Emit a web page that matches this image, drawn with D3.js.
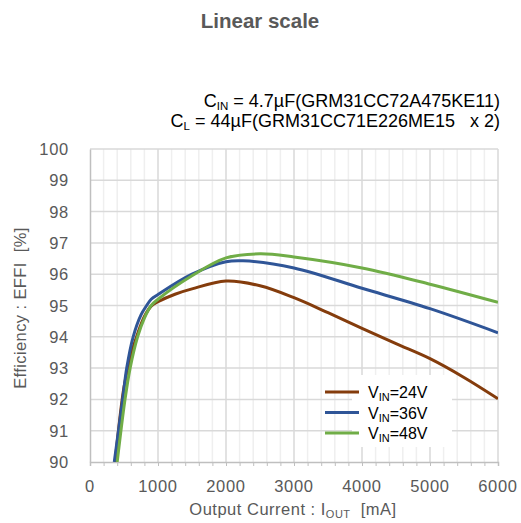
<!DOCTYPE html>
<html><head><meta charset="utf-8">
<script src="https://cdn.jsdelivr.net/npm/d3@7"></script>
<style>body{margin:0;background:#fff}svg{display:block;font-family:"Liberation Sans",Arial,sans-serif}</style>
</head><body><svg id="c" width="521" height="523"></svg>
<script>
const title = "Linear scale";
const xTicks = [0,1000,2000,3000,4000,5000,6000];
const yTicks = [90,91,92,93,94,95,96,97,98,99,100];
const seriesNames = ["24V","36V","48V"];
const seriesColors = ["#843C0C","#2F5597","#70AD47"];
const iout24 = [370,500,600,700,800,900,1000,1250,1500,2000,2500,3000,3500,4000,4500,5000,5500,6000];
const eff24  = [90.0,92.4,93.4,94.1,94.65,94.98,95.12,95.36,95.53,95.78,95.63,95.25,94.77,94.27,93.78,93.3,92.7,92.02];
const iout36 = [357,480,540,635,750,833,900,1000,1500,2000,2250,3000,4000,5000,6000];
const eff36  = [90.0,92.0,93.0,94.0,94.7,95.0,95.2,95.35,96.0,96.4,96.43,96.2,95.55,94.9,94.13];
const iout48 = [400,515,590,700,800,900,1000,1500,2000,2500,3000,4000,5000,6000];
const eff48  = [90.0,92.0,93.0,94.0,94.6,95.0,95.2,95.95,96.52,96.65,96.55,96.2,95.68,95.1];

const svg = d3.select("#c");
const x = d3.scaleLinear().domain([0,6000]).range([90,498]);
const y = d3.scaleLinear().domain([90,100]).range([462,149]);
const txt = "#595959";

// title
svg.append("text").attr("x",260).attr("y",27.5).attr("text-anchor","middle")
  .attr("font-size",20.5).attr("font-weight","bold").attr("fill",txt).text(title);

// annotation
const ann = svg.append("g").attr("fill","#000").attr("font-size",18).attr("text-anchor","end");
const a1 = ann.append("text").attr("x",500).attr("y",106.5);
a1.append("tspan").text("C");
a1.append("tspan").attr("font-size",11.5).attr("dy",3).text("IN");
a1.append("tspan").attr("dy",-3).text(" = 4.7µF(GRM31CC72A475KE11)");
const a2 = ann.append("text").attr("x",500).attr("y",127);
a2.append("tspan").text("C");
a2.append("tspan").attr("font-size",11.5).attr("dy",3).text("L");
a2.append("tspan").attr("dy",-3).attr("xml:space","preserve").text(" = 44µF(GRM31CC71E226ME15   x 2)");

// grid
const minor = d3.range(0,6001,200);
svg.append("g").selectAll("line").data(minor.filter(v=>v%1000!==0)).join("line")
  .attr("x1",d=>x(d)).attr("x2",d=>x(d)).attr("y1",y(100)).attr("y2",y(90))
  .attr("stroke","#efefef").attr("stroke-width",1.5);
svg.append("g").selectAll("line").data(xTicks.slice(1)).join("line")
  .attr("x1",d=>x(d)).attr("x2",d=>x(d)).attr("y1",y(100)).attr("y2",y(90))
  .attr("stroke","#d9d9d9").attr("stroke-width",1.5);
svg.append("g").selectAll("line").data(yTicks.slice(1)).join("line")
  .attr("x1",x(0)).attr("x2",x(6000)).attr("y1",d=>y(d)).attr("y2",d=>y(d))
  .attr("stroke","#d9d9d9").attr("stroke-width",1.5);

// axes
const xAxis = svg.append("g").attr("transform",`translate(0,${y(90)})`)
  .call(d3.axisBottom(x).tickValues(minor).tickSize(4).tickFormat(""));
xAxis.select(".domain").attr("stroke","#bfbfbf").attr("stroke-width",1.5);
xAxis.selectAll(".tick line").attr("stroke","#bfbfbf");
svg.append("g").selectAll("text").data(xTicks).join("text")
  .attr("x",d=>x(d)).attr("y",491.5).attr("text-anchor","middle").attr("font-size",16.5)
  .attr("letter-spacing",0.7).attr("fill",txt).text(d=>d);
const yAxis = svg.append("g").attr("transform",`translate(${x(0)},0)`)
  .call(d3.axisLeft(y).tickValues(yTicks).tickSize(0).tickFormat(""));
yAxis.select(".domain").attr("stroke","#bfbfbf").attr("stroke-width",1.5);
svg.append("g").selectAll("text").data(yTicks).join("text")
  .attr("x",69).attr("y",d=>y(d)+6).attr("text-anchor","end").attr("font-size",16.5)
  .attr("letter-spacing",0.7).attr("fill",txt).text(d=>d);

// axis titles
const xt = svg.append("text").attr("x",293).attr("y",515).attr("text-anchor","middle")
  .attr("font-size",16.5).attr("letter-spacing",0.5).attr("fill",txt);
xt.append("tspan").text("Output Current : I");
xt.append("tspan").attr("font-size",11).attr("dy",3).text("OUT");
xt.append("tspan").attr("dy",-3).attr("xml:space","preserve").text("  [mA]");
svg.append("text").attr("transform","translate(26,308) rotate(-90)").attr("text-anchor","middle")
  .attr("font-size",16.5).attr("letter-spacing",0.4).attr("fill",txt).attr("xml:space","preserve")
  .text("Efficiency : EFFI  [%]");

// lines
const data = [[iout24,eff24],[iout36,eff36],[iout48,eff48]];
svg.append("clipPath").attr("id","clip").append("rect")
  .attr("x",x(0)).attr("y",y(100)).attr("width",x(6000)-x(0)).attr("height",y(90)-y(100));
const line = d3.line().x(d=>x(d[0])).y(d=>y(d[1])).curve(d3.curveCatmullRom.alpha(0.5));
svg.append("g").attr("clip-path","url(#clip)").selectAll("path").data(data).join("path")
  .attr("d",d=>line(d[0].map((v,i)=>[v,d[1][i]])))
  .attr("fill","none").attr("stroke",(d,i)=>seriesColors[i]).attr("stroke-width",3);

// legend
svg.append("rect").attr("x",352).attr("y",375).attr("width",100).attr("height",72).attr("fill","#fff");
const lg = svg.append("g").selectAll("g").data(seriesNames).join("g")
  .attr("transform",(d,i)=>`translate(0,${392+i*20.5})`);
lg.append("line").attr("x1",325).attr("x2",359).attr("stroke",(d,i)=>seriesColors[i]).attr("stroke-width",3);
const lt = lg.append("text").attr("x",368).attr("y",6).attr("font-size",16).attr("fill","#000");
lt.append("tspan").text("V");
lt.append("tspan").attr("font-size",11).attr("dy",3).text("IN");
lt.append("tspan").attr("dy",-3).text(d=>"="+d);
</script></body></html>
